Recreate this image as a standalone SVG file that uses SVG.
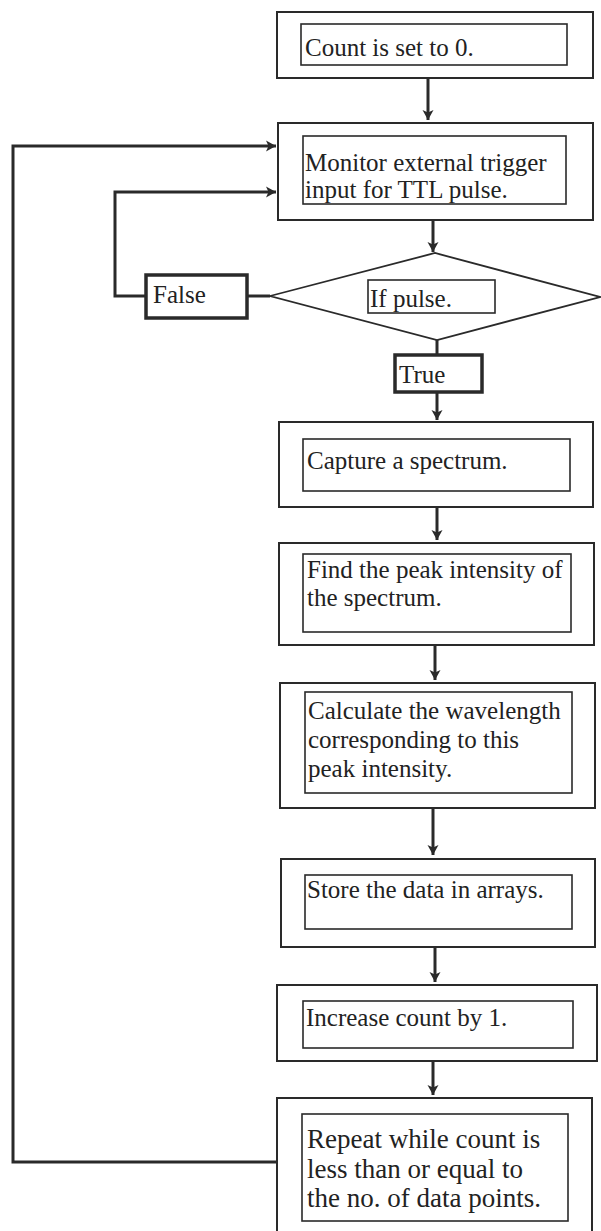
<svg xmlns="http://www.w3.org/2000/svg" width="601" height="1231" viewBox="0 0 601 1231">
<defs>
<style>
.outer{fill:#fff;stroke:#2a2a2a;stroke-width:2}
.inner{fill:#fff;stroke:#2a2a2a;stroke-width:1.6}
.lbl{fill:#fff;stroke:#2a2a2a;stroke-width:3.5}
.dia{fill:#fff;stroke:#2a2a2a;stroke-width:1.8}
.t{font-family:"Liberation Serif","Times New Roman",serif;font-size:25px;fill:#222}
.tb{font-family:"Liberation Serif","Times New Roman",serif;font-size:27px;fill:#222}
.c{fill:none;stroke:#2a2a2a;stroke-width:3}
</style>
<marker id="ah" markerUnits="userSpaceOnUse" markerWidth="12" markerHeight="12" refX="10" refY="6" orient="auto">
<path d="M0,0.5 L10,6 L0,11.5 L2.5,6 z" fill="#2a2a2a"/>
</marker>
</defs>
<rect width="601" height="1231" fill="#fff"/>

<g id="connectors">
<path class="c" d="M428,78 V120" marker-end="url(#ah)"/>
<path class="c" d="M433,220 V252" marker-end="url(#ah)"/>
<path class="c" d="M437,340 V354"/>
<path class="c" d="M437,392 V420" marker-end="url(#ah)"/>
<path class="c" d="M437,507 V540" marker-end="url(#ah)"/>
<path class="c" d="M435,645 V680" marker-end="url(#ah)"/>
<path class="c" d="M433,808 V855" marker-end="url(#ah)"/>
<path class="c" d="M435,947 V982" marker-end="url(#ah)"/>
<path class="c" d="M433,1061 V1095" marker-end="url(#ah)"/>
<path class="c" d="M270,296 H247"/>
<path class="c" d="M146,296 H115 V192 H276" marker-end="url(#ah)"/>
<path class="c" d="M277,1162 H13 V146 H276" marker-end="url(#ah)"/>
</g>

<g id="n-count">
<rect class="outer" x="277" y="12" width="316" height="66"/>
<rect class="inner" x="301" y="24" width="266" height="41"/>
<text class="t" x="305" y="56">Count is set to 0.</text>
</g>

<g id="n-monitor">
<rect class="outer" x="278" y="123" width="315" height="97"/>
<rect class="inner" x="303" y="136" width="263" height="68"/>
<text class="t" x="305" y="171">Monitor external trigger</text>
<text class="t" x="305" y="198">input for TTL pulse.</text>
</g>

<g id="n-decision">
<polygon class="dia" points="270,296 435,253 600,297 437,340"/>
<rect class="inner" x="368" y="280" width="127" height="33"/>
<text class="t" x="370" y="307">If pulse.</text>
</g>

<g id="n-false">
<rect class="lbl" x="146" y="275" width="101" height="43"/>
<text class="t" x="153" y="303">False</text>
</g>

<g id="n-true">
<rect class="lbl" x="395" y="355" width="87" height="37"/>
<text class="t" x="399" y="383">True</text>
</g>

<g id="n-capture">
<rect class="outer" x="279" y="422" width="314" height="85"/>
<rect class="inner" x="303" y="439" width="267" height="52"/>
<text class="t" x="307" y="469">Capture a spectrum.</text>
</g>

<g id="n-find">
<rect class="outer" x="279" y="543" width="315" height="102"/>
<rect class="inner" x="303" y="554" width="268" height="78"/>
<text class="t" x="307" y="578">Find the peak intensity of</text>
<text class="t" x="307" y="606">the spectrum.</text>
</g>

<g id="n-calc">
<rect class="outer" x="280" y="683" width="315" height="125"/>
<rect class="inner" x="305" y="692" width="267" height="101"/>
<text class="t" x="308" y="719">Calculate the wavelength</text>
<text class="t" x="308" y="748">corresponding to this</text>
<text class="t" x="308" y="777">peak intensity.</text>
</g>

<g id="n-store">
<rect class="outer" x="281" y="859" width="314" height="88"/>
<rect class="inner" x="305" y="875" width="267" height="54"/>
<text class="t" x="307" y="898">Store the data in arrays.</text>
</g>

<g id="n-increase">
<rect class="outer" x="277" y="985" width="320" height="76"/>
<rect class="inner" x="303" y="1001" width="270" height="47"/>
<text class="t" x="306" y="1026">Increase count by 1.</text>
</g>

<g id="n-repeat">
<rect class="outer" x="277" y="1098" width="315" height="140"/>
<rect class="inner" x="302" y="1114" width="266" height="107"/>
<text class="tb" x="307" y="1148">Repeat while count is</text>
<text class="tb" x="307" y="1178">less than or equal to</text>
<text class="tb" x="307" y="1207">the no. of data points.</text>
</g>
</svg>
